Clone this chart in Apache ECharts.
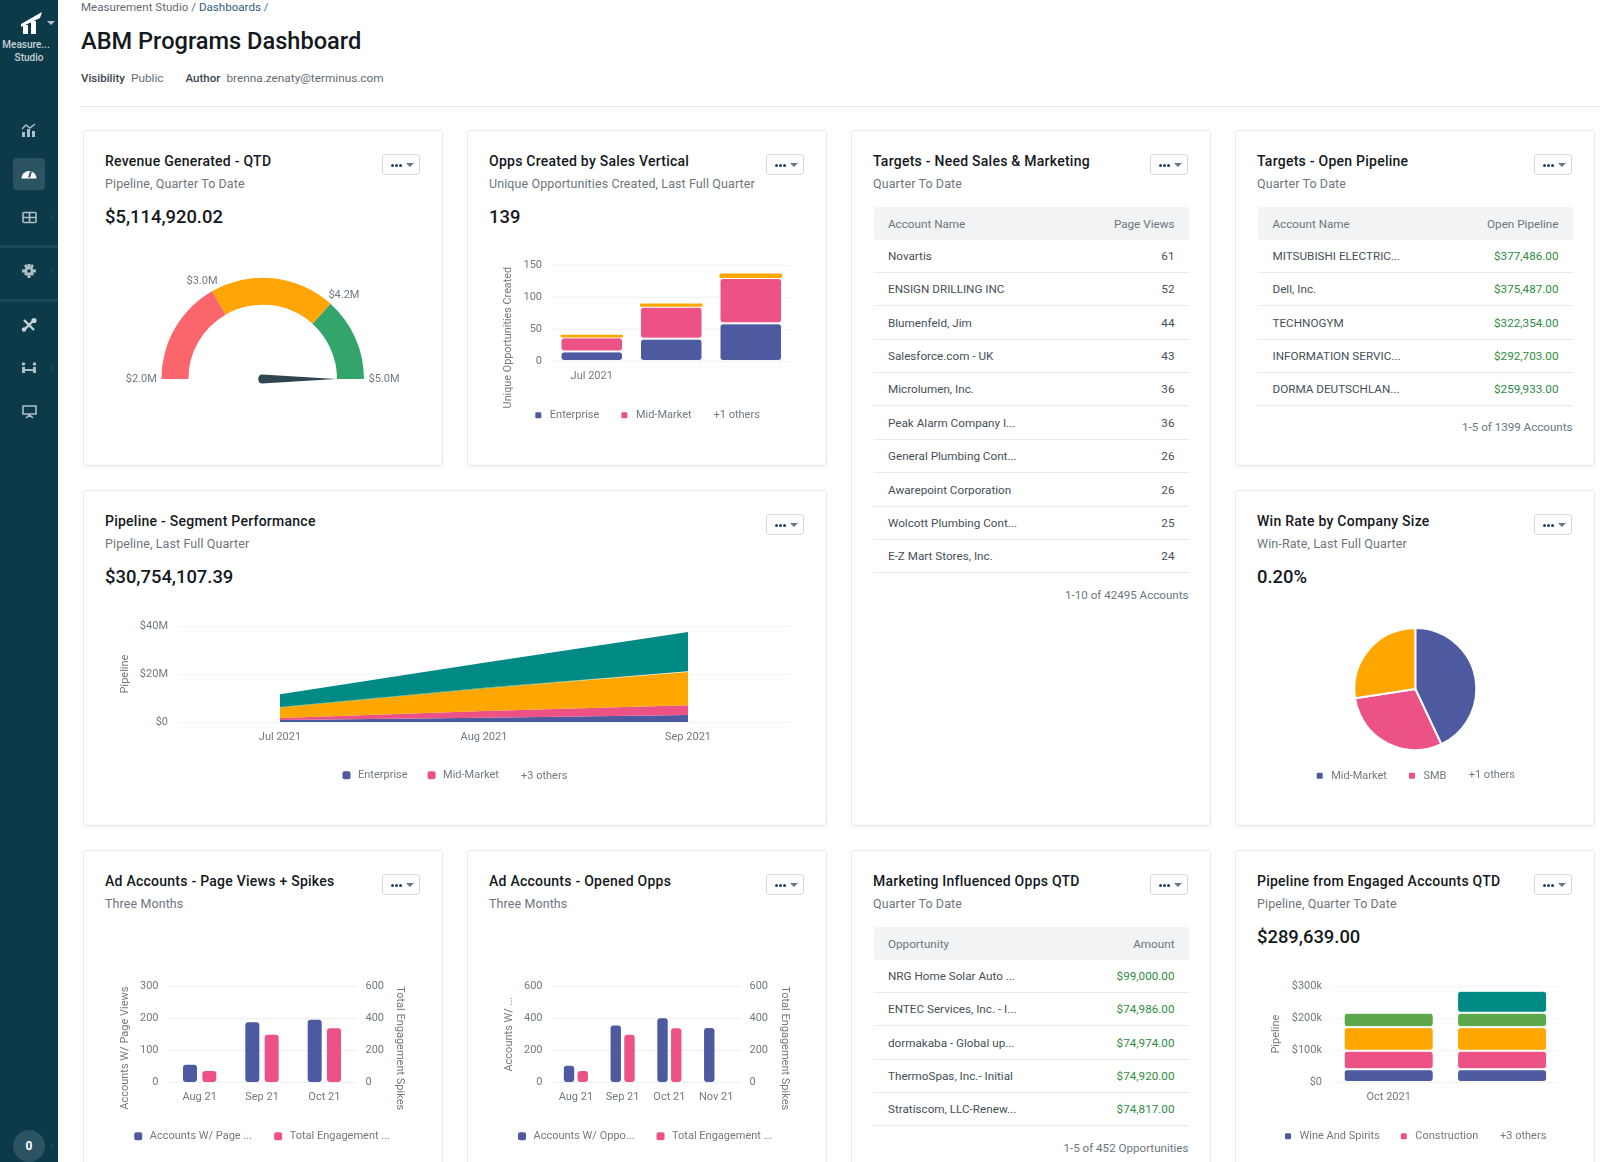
<!DOCTYPE html>
<html lang="en">
<head>
<meta charset="utf-8">
<title>ABM Programs Dashboard</title>
<script src="https://cdn.jsdelivr.net/npm/echarts@6/dist/echarts.min.js"></script>
<style>
html,body{margin:0;padding:0;width:1600px;height:1162px;overflow:hidden;background:#fff;font-family:Roboto,sans-serif;color:#1d2429}
.abs{position:absolute;white-space:nowrap}
#side{position:absolute;left:0;top:0;width:58px;height:1162px;background:#0d3a49}
.sep{position:absolute;left:0;width:58px;height:3px;background:#1d4856}
.card{position:absolute;box-sizing:border-box;width:360px;height:336px;background:#fff;border:1px solid #e8eaec;border-radius:3px;box-shadow:0 1px 2px rgba(30,50,60,.06)}
.card .t{position:absolute;left:21px;top:21px;font-size:14px;line-height:18px;font-weight:500;letter-spacing:.25px;color:#14191d;white-space:nowrap}
.card .s{position:absolute;left:21px;top:45px;font-size:12.5px;line-height:16px;color:#6c767d;letter-spacing:.1px;white-space:nowrap}
.card .v{position:absolute;left:21px;top:75px;font-size:18.4px;line-height:22px;font-weight:500;color:#14191d;white-space:nowrap}
.btn{position:absolute;top:23px;right:22.5px;width:38px;height:21px;box-sizing:border-box;border:1px solid #d5d9dc;border-radius:3px;background:#fff}
.btn i{position:absolute;top:9px;width:3px;height:3px;border-radius:50%;background:#1f3f7a}
.btn b{position:absolute;left:23px;top:8px;width:0;height:0;border-left:4px solid transparent;border-right:4px solid transparent;border-top:4px solid #6c767d}
.chart{position:absolute;left:0;top:0}
.hd{position:absolute;height:33px;background:#f1f3f4;border-radius:3px}
.cell{position:absolute;font-size:11.7px;line-height:16px;color:#444f56;white-space:nowrap}
.rl{position:absolute;height:1px;background:#e8eaec}
.g{color:#2f8c3e}
.h{color:#6c767d}
.foot{position:absolute;font-size:11.6px;line-height:16px;color:#6c767d;white-space:nowrap}
svg{position:absolute;overflow:visible}
</style>
</head>
<body>
<div id="side">
  <svg style="left:0;top:0" width="58" height="60">
    <path d="M21 24 L42 12 L40 18 L21 27Z M23 25h5v9h-5z M31 21h5v13h-5z" fill="#fff"/>
    <path d="M47 21h8l-4 4z" fill="#b4c4ca"/>
  </svg>
  <div class="abs" style="width:52px;top:38px;text-align:center;font-size:10px;line-height:13px;font-weight:500;color:#c5d2d7;left:0">Measure...</div>
  <div class="abs" style="left:0;width:58px;top:51px;text-align:center;font-size:10px;line-height:13px;font-weight:500;color:#c5d2d7">Studio</div>
  <div style="position:absolute;left:13px;top:158px;width:32px;height:32px;border-radius:4px;background:#2b5361"></div>
  <svg style="left:0;top:0" width="58" height="430">
    <g fill="#aebfc5">
      <path d="M22 132h3v5h-3zM27 129h3v8h-3zM32 131h3v6h-3z"/>
      <path d="M22 129l4-4 4 3 5-4" fill="none" stroke="#aebfc5" stroke-width="1.4"/>
    </g>
    <path d="M21.5 178.5a7.5 7.5 0 1 1 15 0z" fill="#fff"/>
    <path d="M29 177.5l2-6" stroke="#2b5361" stroke-width="2"/>
    <g fill="none" stroke="#aebfc5" stroke-width="1.6"><rect x="23" y="212.5" width="13" height="10" rx="1"/><path d="M23 217.5h13M29.5 212.5v10"/></g>
    <g fill="#aebfc5"><circle cx="29" cy="271" r="4.6"/><path d="M27.5 264h3v14h-3zM22 269.5h14v3H22zM24 266l2-2 8 10-2 2zM34 266l-2-2-8 10 2 2z"/></g>
    <circle cx="29" cy="271" r="1.8" fill="#0d3a49"/>
    <g stroke="#c7d3d7" stroke-width="2.4" fill="none"><path d="M24 320l10 10M34 320l-10 10"/></g>
    <g fill="#c7d3d7"><circle cx="34" cy="320.5" r="2.6"/><circle cx="24" cy="329.5" r="2.2"/></g>
    <g fill="#aebfc5"><circle cx="23.5" cy="364" r="1.8"/><circle cx="34.5" cy="364" r="1.8"/><path d="M22 367h3v6h-3zM33 367h3v6h-3zM25 369h8v2h-8z"/></g>
    <g fill="none" stroke="#aebfc5" stroke-width="1.6"><path d="M23 406h13v8H23z M29.5 414v3 M26 418l3.5-3 3.5 3"/></g>
    <g stroke="#2c5766" stroke-width="1" fill="none"><path d="M51 215l2 2-2 2M51 269l2 2-2 2M51 366l2 2-2 2M51 1144l2 2-2 2"/></g>
  </svg>
  <div class="sep" style="top:245px"></div>
  <div class="sep" style="top:299px"></div>
  <div style="position:absolute;left:13px;top:1130px;width:32px;height:32px;border-radius:50%;background:#2b5361"></div>
  <div class="abs" style="left:13px;width:32px;top:1138px;text-align:center;font-size:12px;line-height:16px;font-weight:700;color:#fff">0</div>
</div>

<div class="abs" style="left:81px;top:0;font-size:11.6px;line-height:15px;color:#5f6c74">Measurement Studio / <span style="color:#33607f">Dashboards</span> /</div>
<div class="abs" style="left:81px;top:26px;font-size:23.6px;line-height:30px;font-weight:500;color:#14191d">ABM Programs Dashboard</div>
<div class="abs" style="left:81px;top:69.5px;font-size:11.5px;line-height:16px;font-weight:500;color:#3b454b">Visibility</div>
<div class="abs" style="left:131px;top:69.5px;font-size:11.8px;line-height:16px;color:#5f6c74">Public</div>
<div class="abs" style="left:185.5px;top:69.5px;font-size:11.5px;line-height:16px;font-weight:500;color:#3b454b">Author</div>
<div class="abs" style="left:226.5px;top:69.5px;font-size:11.8px;line-height:16px;color:#5f6c74">brenna.zenaty@terminus.com</div>
<div style="position:absolute;left:80px;right:0;top:106px;height:1px;background:#e6e9eb"></div>

<div id="page"></div>

<script>
// ---- palette
var BLUE = '#4d5a9f', PINK = '#ec5286', ORANGE = '#ffa600', GREEN = '#5ea84c', TEAL = '#008a85';
var GAUGE_RED = '#fb656c', GAUGE_ORANGE = '#ffa606', GAUGE_GREEN = '#33a46c';
var AXIS_TEXT = '#6f7a81', GRID_LINE = '#e6e8ea';

// ---- revenue gauge
var gaugeValue = 5.11492002;
var gaugeMin = 2, gaugeMax = 5;
var gaugeTicks = [2.0, 3.0, 4.2, 5.0];
var gaugeTickLabels = ['$2.0M', '$3.0M', '$4.2M', '$5.0M'];

// ---- opps by vertical
var oppsMonths = ['Jul 2021', 'Aug 2021', 'Sep 2021'];
var oppsEnterprise = [15, 35, 59];
var oppsMidMarket = [22, 50, 71];
var oppsOthers = [4, 5, 7];

// ---- pipeline segment performance ($M)
var segMonths = ['Jul 2021', 'Aug 2021', 'Sep 2021'];
var segEnterprise = [0.8, 1.8, 2.9];
var segMidMarket = [0.9, 2.8, 4.1];
var segOrange = [4.3, 9.4, 13.8];
var segGreen = [0.3, 0.3, 0.3];
var segTeal = [5.3, 10.4, 16.4];

// ---- win rate
var winLabels = ['Mid-Market', 'SMB', 'Enterprise'];
var winValues = [43, 29.6, 27.4];

// ---- ad accounts page views
var adMonths = ['Aug 21', 'Sep 21', 'Oct 21'];
var adPageViews = [54, 187, 195];
var adSpikes = [69, 297, 337];

// ---- ad accounts opened opps
var oppMonths = ['Aug 21', 'Sep 21', 'Oct 21', 'Nov 21'];
var oppAccounts = [102, 355, 399, 339];
var oppSpikes = [69, 297, 337, null];

// ---- engaged pipeline ($k)
var engMonths = ['Oct 2021', 'Nov 2021'];
var engWine = [40, 40];
var engConstruction = [58, 58];
var engOrange = [74, 74];
var engGreen = [45, 45];
var engTeal = [null, 69];

// ---- tables
var tblSalesHead = ['Account Name', 'Page Views'];
var tblSalesNames = ['Novartis','ENSIGN DRILLING INC','Blumenfeld, Jim','Salesforce.com - UK','Microlumen, Inc.','Peak Alarm Company I...','General Plumbing Cont...','Awarepoint Corporation','Wolcott Plumbing Cont...','E-Z Mart Stores, Inc.'];
var tblSalesVals = ['61','52','44','43','36','36','26','26','25','24'];
var tblOpenHead = ['Account Name', 'Open Pipeline'];
var tblOpenNames = ['MITSUBISHI ELECTRIC...','Dell, Inc.','TECHNOGYM','INFORMATION SERVIC...','DORMA DEUTSCHLAN...'];
var tblOpenVals = ['$377,486.00','$375,487.00','$322,354.00','$292,703.00','$259,933.00'];
var tblInflHead = ['Opportunity', 'Amount'];
var tblInflNames = ['NRG Home Solar Auto ...','ENTEC Services, Inc. - I...','dormakaba - Global up...','ThermoSpas, Inc.- Initial','Stratiscom, LLC-Renew...'];
var tblInflVals = ['$99,000.00','$74,986.00','$74,974.00','$74,920.00','$74,817.00'];

// ---- page helpers
var page = document.getElementById('page');
function card(x, y, w, h, title, sub, val) {
  var c = document.createElement('div');
  c.className = 'card';
  c.style.cssText = 'left:' + x + 'px;top:' + y + 'px;width:' + w + 'px;height:' + h + 'px';
  c.innerHTML = '<div class="t">' + title + '</div><div class="s">' + sub + '</div>' +
    (val ? '<div class="v">' + val + '</div>' : '') +
    '<div class="btn"><i style="left:8px"></i><i style="left:12px"></i><i style="left:16px"></i><b></b></div>';
  page.appendChild(c);
  return c;
}
function mount(c, w, h, opt) {
  var d = document.createElement('div');
  d.className = 'chart';
  d.style.width = (w - 2) + 'px';
  d.style.height = (h - 2) + 'px';
  c.appendChild(d);
  var inst = echarts.init(d, null, {renderer: 'canvas'});
  opt.animation = false;
  inst.setOption(opt);
  return inst;
}
function table(c, left, right, head, names, vals, green, footText, footY) {
  var w = right - left;
  var h = document.createElement('div');
  h.className = 'hd';
  h.style.cssText = 'left:' + left + 'px;top:76px;width:' + w + 'px';
  c.appendChild(h);
  function cell(txt, y, isRight, cls) {
    var e = document.createElement('div');
    e.className = 'cell ' + (cls || '');
    e.style.top = (y - 8) + 'px';
    if (isRight) e.style.right = (c.clientWidth - right + 14) + 'px'; else e.style.left = (left + 14.5) + 'px';
    e.textContent = txt;
    c.appendChild(e);
  }
  cell(head[0], 93, false, 'h');
  cell(head[1], 93, true, 'h');
  names.forEach(function (n, i) {
    var y = 124.7 + i * 33.4;
    cell(n, y, false);
    cell(vals[i], y, true, green ? 'g' : '');
    var r = document.createElement('div');
    r.className = 'rl';
    r.style.cssText = 'left:' + left + 'px;width:' + w + 'px;top:' + Math.round(y + 16) + 'px';
    c.appendChild(r);
  });
  var f = document.createElement('div');
  f.className = 'foot';
  f.style.cssText = 'right:' + (c.clientWidth - right) + 'px;top:' + (footY - 8) + 'px';
  f.textContent = footText;
  c.appendChild(f);
}

// ---- shared chart bits
var FONT = 'Roboto';
function axisLabel(extra) {
  var o = {color: AXIS_TEXT, fontFamily: FONT, fontSize: 11};
  for (var k in extra) o[k] = extra[k];
  return o;
}
function nameStyle(padding, size) {
  return {color: AXIS_TEXT, fontFamily: FONT, fontSize: size || 11, padding: padding || 0};
}
function valueAxis(max, interval, fmt, name, nameGap, extra) {
  var o = {
    type: 'value', min: 0, max: max, interval: interval,
    axisLine: {show: false}, axisTick: {show: false},
    axisLabel: axisLabel({margin: 10, formatter: fmt}),
    splitLine: {lineStyle: {color: GRID_LINE, type: 'dotted', width: 1}},
    name: name, nameLocation: 'middle', nameGap: nameGap, nameRotate: 90, nameMoveOverlap: false,
    nameTextStyle: nameStyle()
  };
  for (var k in (extra || {})) o[k] = extra[k];
  return o;
}
function catAxis(cats, interval, boundary) {
  return {
    type: 'category', data: cats, boundaryGap: boundary !== false,
    axisLine: {show: false}, axisTick: {show: false},
    axisLabel: axisLabel({margin: 10, interval: interval, hideOverlap: false})
  };
}
function legend(left, top, names, gap) {
  return {
    left: left, top: top, orient: 'horizontal', data: names, padding: 0,
    icon: 'roundRect', itemWidth: 8, itemHeight: 8, itemGap: gap || 20, selectedMode: false,
    textStyle: {color: AXIS_TEXT, fontFamily: FONT, fontSize: 11, padding: [0, 0, 0, 2.5]}
  };
}
function note(x, y, txt) {
  return {type: 'text', left: x, top: y, silent: true,
    style: {text: txt, fill: AXIS_TEXT, font: '11px ' + FONT}};
}
function stackBar(name, data, color, stack, width, bare) {
  return {type: 'bar', name: name, data: data, stack: stack, barWidth: width,
    itemStyle: bare ? {color: color, borderRadius: 1, borderWidth: 0}
      : {color: color, borderRadius: 3, borderColor: '#fff', borderWidth: 1}};
}
function bar(name, data, color, axisIndex, width, gap) {
  return {type: 'bar', name: name, data: data, yAxisIndex: axisIndex, barWidth: width, barGap: gap,
    itemStyle: {color: color, borderRadius: 3}};
}
function area(name, data, color) {
  return {type: 'line', name: name, data: data, stack: 'a', symbol: 'none', showSymbol: false,
    lineStyle: {width: 0}, itemStyle: {color: color}, areaStyle: {color: color, opacity: 1}};
}

var X = [83, 467, 851, 1235], Y = [130, 490, 850], W = 360, H = 336;

// ---- card 1: gauge
var gaugeCx = 262.7 - X[0] - 1, gaugeCy = 379 - Y[0] - 1;
var c1 = card(X[0], Y[0], W, H, 'Revenue Generated - QTD', 'Pipeline, Quarter To Date', '$5,114,920.02');
mount(c1, W, H, {
  graphic: gaugeTicks.map(function (t, i) {
    var a = Math.PI * (1 - (t - gaugeMin) / (gaugeMax - gaugeMin));
    return {type: 'text', x: gaugeCx + 121.4 * Math.cos(a), y: gaugeCy - 113 * Math.sin(a), silent: true,
      style: {text: gaugeTickLabels[i], fill: AXIS_TEXT, font: '11px ' + FONT, align: 'center', verticalAlign: 'middle'}};
  }),
  series: [{
    type: 'gauge', center: [gaugeCx, gaugeCy], radius: 101.3,
    startAngle: 180, endAngle: 0, min: gaugeMin, max: gaugeMax, splitNumber: 3, clockwise: true,
    axisLine: {lineStyle: {width: 27, color: [
      [(gaugeTicks[1] - gaugeMin) / (gaugeMax - gaugeMin), GAUGE_RED],
      [(gaugeTicks[2] - gaugeMin) / (gaugeMax - gaugeMin), GAUGE_ORANGE],
      [1, GAUGE_GREEN]]}},
    axisTick: {show: false},
    splitLine: {show: false},
    axisLabel: {show: false},
    pointer: {show: true, icon: 'path://M0 -100L5 0A5 5 0 0 1 -5 0Z', length: 78, width: 9, offsetCenter: [0, 4.5], keepAspect: false,
      itemStyle: {color: '#2f4550'}},
    anchor: {show: false},
    title: {show: false}, detail: {show: false},
    data: [{value: gaugeValue}]
  }]
});

// ---- card 2: stacked opps
var c2 = card(X[1], Y[0], W, H, 'Opps Created by Sales Vertical', 'Unique Opportunities Created, Last Full Quarter', '139');
mount(c2, W, H, {
  grid: {left: 552 - X[1] - 1, top: 265.3 - Y[0] - 1, width: 238.5, height: 95.7},
  xAxis: catAxis(oppsMonths, 2),
  yAxis: valueAxis(150, 50, null, 'Unique Opportunities Created', 38, {nameTextStyle: nameStyle([0, 49, 0, 0], 10.8)}),
  legend: legend(533.3 - X[1] - 1, 409.7 - Y[0] - 1, ['Enterprise', 'Mid-Market']),
  graphic: [note(713.5 - X[1] - 1, 410.2 - Y[0] - 1, '+1 others')],
  series: [
    stackBar('Enterprise', oppsEnterprise, BLUE, 's', 62.5),
    stackBar('Mid-Market', oppsMidMarket, PINK, 's', 62.5),
    stackBar('Other', oppsOthers, ORANGE, 's', 62.5, true)
  ]
});

// ---- card 3: table
var c3 = card(X[2], Y[0], W, 696, 'Targets - Need Sales &amp; Marketing', 'Quarter To Date');
table(c3, 21.5, 336.5, tblSalesHead, tblSalesNames, tblSalesVals, false, '1-10 of 42495 Accounts', 463.5);

// ---- card 4: table
var c4 = card(X[3], Y[0], W, H, 'Targets - Open Pipeline', 'Quarter To Date');
table(c4, 22, 336.5, tblOpenHead, tblOpenNames, tblOpenVals, true, '1-5 of 1399 Accounts', 296);

// ---- card 5: segment area
var c5 = card(X[0], Y[1], 744, H, 'Pipeline - Segment Performance', 'Pipeline, Last Full Quarter', '$30,754,107.39');
mount(c5, 744, H, {
  grid: {left: 178 - X[0] - 1, top: 626 - Y[1] - 1, width: 612, height: 96},
  xAxis: catAxis(segMonths, 0),
  yAxis: valueAxis(40, 20, function (v) { return v === 0 ? '$0' : '$' + v + 'M'; }, 'Pipeline', 47),
  legend: legend(342.5 - X[0] - 1, 769.8 - Y[1] - 1, ['Enterprise', 'Mid-Market']),
  graphic: [note(521 - X[0] - 1, 770.3 - Y[1] - 1, '+3 others')],
  series: [
    area('Enterprise', segEnterprise, BLUE),
    area('Mid-Market', segMidMarket, PINK),
    area('Retail', segOrange, ORANGE),
    area('Public Sector', segGreen, GREEN),
    area('Strategic', segTeal, TEAL)
  ]
});

// ---- card 6: pie
var c6 = card(X[3], Y[1], W, H, 'Win Rate by Company Size', 'Win-Rate, Last Full Quarter', '0.20%');
mount(c6, W, H, {
  color: [BLUE, PINK, ORANGE],
  legend: legend(1314.7 - X[3] - 1, 770.3 - Y[1] - 1, winLabels.slice(0, 2)),
  graphic: [note(1468.7 - X[3] - 1, 770 - Y[1] - 1, '+1 others')],
  series: [{
    type: 'pie', center: [1415.3 - X[3] - 1, 689 - Y[1] - 1], radius: [0, 61], startAngle: 90, clockwise: true,
    label: {show: false}, labelLine: {show: false},
    itemStyle: {borderColor: '#fff', borderWidth: 2},
    data: winLabels.map(function (n, i) { return {name: n, value: winValues[i]}; })
  }]
});

// ---- card 7: ad page views
var c7 = card(X[0], Y[2], W, H, 'Ad Accounts - Page Views + Spikes', 'Three Months');
mount(c7, W, H, {
  grid: {left: 168.5 - X[0] - 1, top: 986.3 - Y[2] - 1, width: 187, height: 95.7},
  xAxis: catAxis(adMonths, 0),
  yAxis: [
    valueAxis(300, 100, null, 'Accounts W/ Page Views', 38, {nameTextStyle: nameStyle([0, 28, 0, 0])}),
    valueAxis(600, 200, null, 'Total Engagement Spikes', 39, {
      nameRotate: -90, position: 'right', nameTextStyle: nameStyle([0, 0, 0, 28])})
  ],
  legend: legend(134.2 - X[0] - 1, 1130.7 - Y[2] - 1, ['Accounts W/ Page ...', 'Total Engagement ...'], 22),
  series: [
    bar('Accounts W/ Page ...', adPageViews, BLUE, 0, 14, '38%'),
    bar('Total Engagement ...', adSpikes, PINK, 1, 14, '38%')
  ]
});

// ---- card 8: ad opened opps
var c8 = card(X[1], Y[2], W, H, 'Ad Accounts - Opened Opps', 'Three Months');
mount(c8, W, H, {
  grid: {left: 552.5 - X[1] - 1, top: 986.3 - Y[2] - 1, width: 187, height: 95.7},
  xAxis: catAxis(oppMonths, 0),
  yAxis: [
    valueAxis(600, 200, null, 'Accounts W/ ...', 38),
    valueAxis(600, 200, null, 'Total Engagement Spikes', 40, {
      nameRotate: -90, position: 'right', nameTextStyle: nameStyle([0, 0, 0, 28])})
  ],
  legend: legend(518 - X[1] - 1, 1130.7 - Y[2] - 1, ['Accounts W/ Oppo...', 'Total Engagement ...'], 22),
  series: [
    bar('Accounts W/ Oppo...', oppAccounts, BLUE, 0, 10.4, '32%'),
    bar('Total Engagement ...', oppSpikes, PINK, 1, 10.4, '32%')
  ]
});

// ---- card 9: table
var c9 = card(X[2], Y[2], W, H, 'Marketing Influenced Opps QTD', 'Quarter To Date');
table(c9, 21.5, 336.5, tblInflHead, tblInflNames, tblInflVals, true, '1-5 of 452 Opportunities', 297);

// ---- card 10: engaged stacked
var c10 = card(X[3], Y[2], W, H, 'Pipeline from Engaged Accounts QTD', 'Pipeline, Quarter To Date', '$289,639.00');
mount(c10, W, H, {
  grid: {left: 1332 - X[3] - 1, top: 986.3 - Y[2] - 1, width: 226.8, height: 95.7},
  xAxis: catAxis(engMonths, 1),
  yAxis: valueAxis(300, 100, function (v) { return v === 0 ? '$0' : '$' + v + 'k'; }, 'Pipeline', 50),
  legend: legend(1283 - X[3] - 1, 1130.7 - Y[2] - 1, ['Wine And Spirits', 'Construction'], 19),
  graphic: [note(1500 - X[3] - 1, 1131.2 - Y[2] - 1, '+3 others')],
  series: [
    stackBar('Wine And Spirits', engWine, BLUE, 's', 90),
    stackBar('Construction', engConstruction, PINK, 's', 90),
    stackBar('Technology', engOrange, ORANGE, 's', 90),
    stackBar('Healthcare', engGreen, GREEN, 's', 90),
    stackBar('Finance', engTeal, TEAL, 's', 90)
  ]
});
</script>
</body>
</html>
